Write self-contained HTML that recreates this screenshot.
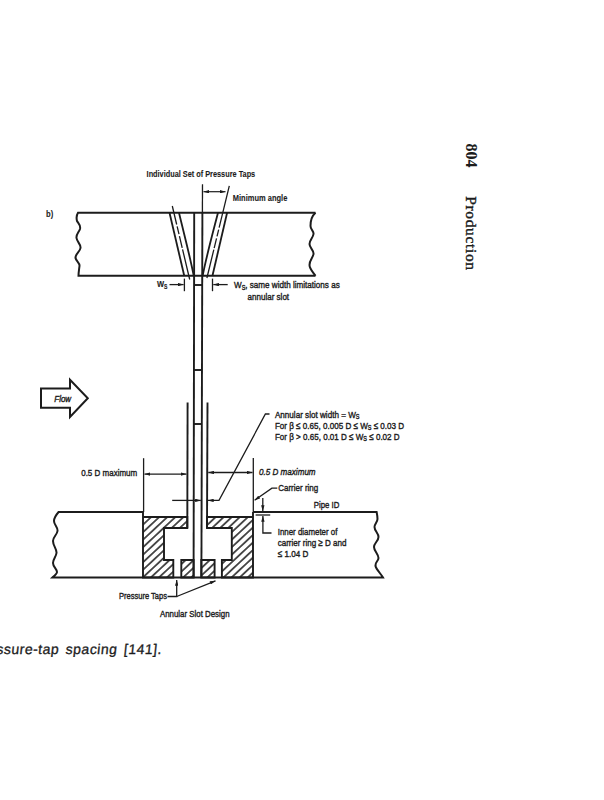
<!DOCTYPE html>
<html><head><meta charset="utf-8">
<style>
html,body{margin:0;padding:0;background:#fff;width:604px;height:800px;overflow:hidden}
svg{display:block}
.t{font-family:"Liberation Sans",sans-serif;font-size:9.9px;fill:#1c1c1c;font-weight:normal;stroke:#1c1c1c;stroke-width:0.4}
.ln{stroke:#1c1c1c;fill:none;stroke-linecap:butt}
</style></head><body>
<svg width="604" height="800" viewBox="0 0 604 800">
<defs>
<marker id="ah" viewBox="0 0 10 6" refX="10" refY="3" markerWidth="6" markerHeight="3.4" markerUnits="userSpaceOnUse" orient="auto-start-reverse">
<path d="M0,0 L10,3 L0,6 z" fill="#1c1c1c"/></marker>
<pattern id="hatch" width="5.5" height="5.5" patternUnits="userSpaceOnUse" patternTransform="rotate(-43)">
<line x1="0" y1="2.75" x2="5.5" y2="2.75" stroke="#1c1c1c" stroke-width="1.5"/></pattern>
</defs>

<!-- top pipe -->
<g class="ln" stroke-width="2">
<path d="M315.5,212.8 L78,212.8 C76,216 76.5,219 77,221 C78,223 81,225 80,229 C79,232 76,234 76.5,238 C77,242 81,244 80.5,248 C80,252 75,254 75.5,258 C76,261 80,263 79.5,266 C79,270 78.5,273 78.5,275.8 L315.5,275.8"/>
<path d="M315.5,212.8 C313,215 310.5,220 310.5,226 C310.5,230 314,231 313.5,234 C313,238 309.5,240 309.5,244 C309.5,248 314,250 313.5,254 C313,258 309.5,260 309.5,265 C309.5,269 313,272 315.5,275.8"/>
</g>
<!-- taps -->
<g class="ln" stroke-width="1.8">
<line x1="169.5" y1="212.8" x2="184.3" y2="276"/>
<path d="M179,212.8 C184,234 189,252 193.8,276"/>
<line x1="227.1" y1="212.8" x2="212.4" y2="276"/>
<path d="M218,212.8 C212,236 206.5,256 202.6,276"/>
</g>
<g class="ln" stroke-width="1.3">
<line x1="172.3" y1="206" x2="189.7" y2="279.5" stroke-dasharray="19,2,8,2,12,1.5,100"/>
<line x1="229.3" y1="185.9" x2="206.9" y2="278" stroke-dasharray="43,2,7,2,10,1.5,100"/>
</g>
<!-- slot -->
<g class="ln" stroke-width="1.9">
<line x1="194.2" y1="212.8" x2="193.6" y2="577.5"/>
<line x1="202.4" y1="212" x2="201.4" y2="577.5"/>
<line x1="202.5" y1="184.3" x2="202.4" y2="213" stroke-width="1.3"/>
<line x1="194" y1="285" x2="202" y2="285"/>
<line x1="194" y1="370" x2="202" y2="370"/>
<line x1="194" y1="424" x2="202" y2="424"/>
<line x1="187.6" y1="402.5" x2="187.3" y2="528"/>
<line x1="207.5" y1="402.5" x2="207" y2="528"/>
</g>
<!-- min angle arrow -->
<g class="ln" stroke-width="1.2">
<line x1="203.5" y1="191.7" x2="225.5" y2="191.7" marker-start="url(#ah)" marker-end="url(#ah)"/>
</g>
<!-- Ws dims -->
<g class="ln" stroke-width="1.3">
<line x1="169.5" y1="284.6" x2="183.6" y2="284.6" marker-end="url(#ah)"/>
<line x1="184.4" y1="278.6" x2="184.4" y2="291.2"/>
<line x1="212.5" y1="278.6" x2="212.5" y2="291.2"/>
<line x1="227.7" y1="284.6" x2="213.3" y2="284.6" marker-end="url(#ah)"/>
</g>

<!-- flow arrow -->
<path class="ln" stroke-width="2" d="M41,388.5 L70,388.5 L70,379.8 L87.8,398.2 L70,417 L70,407.7 L41,407.7 Z"/>

<!-- bottom pipe -->
<g class="ln" stroke-width="2">
<path d="M143,512 L58.6,512 C56,515 54,518 54,521 C54,525 58,527 57.5,531 C57,535 53,537 53,541 C53,546 57,549 56.5,553 C56,557 53,559 53,563 C53,567 57,569 57,572 C57,574 54,576 52.4,577.5 L383,577.5 C381,574 376,569 375.5,566 C375,562 378.5,561 378.5,558 C378.5,554 374,551 374,547 C374,543 378.5,541 378.5,537 C378.5,533 374.5,531 374.5,527 C374.5,524 377.5,522 377.5,519 C377.5,516 377,514 376.6,512 L253,512"/>
</g>
<!-- carrier ring hatched -->
<g stroke="#1c1c1c" stroke-width="1.9" fill="url(#hatch)" stroke-linejoin="miter">
<path d="M143,512 L143,577.5 L173.3,577.5 L173.3,560 L164,560 L164,528 L187.3,528 L187.3,517 L143,517"/>
<path d="M181.3,577.5 L181.3,560 L193.6,560 L193.6,577.5 Z"/>
<path d="M201.3,577.5 L201.3,560 L214.6,560 L214.6,577.5 Z"/>
<path d="M253,512 L253,577.5 L221.9,577.5 L221.9,560 L231.8,560 L231.8,528 L207,528 L207,517 L253,517"/>
</g>

<!-- dims lower -->
<g class="ln" stroke-width="1.3">
<line x1="143.6" y1="458.2" x2="143.6" y2="512"/>
<line x1="253.3" y1="458" x2="253.3" y2="512"/>
<line x1="144.5" y1="474.1" x2="186.5" y2="474.1" marker-start="url(#ah)" marker-end="url(#ah)"/>
<line x1="208.3" y1="472.5" x2="252.5" y2="472.5" marker-start="url(#ah)" marker-end="url(#ah)"/>
<line x1="172.2" y1="500.4" x2="200.8" y2="500.4" marker-end="url(#ah)"/>
<path d="M269.5,414 L265.4,414 L219,500.4 L208,500.4" marker-end="url(#ah)"/>
<path d="M277.3,488.2 L271.9,488.2 L254.6,500.3" marker-end="url(#ah)"/>
<line x1="262.8" y1="498" x2="262.8" y2="511" marker-end="url(#ah)"/>
<line x1="255.6" y1="515" x2="270.2" y2="515"/>
<path d="M271.5,533 L262.9,533 L262.9,516" marker-end="url(#ah)"/>
<path d="M167.5,596.5 L176.7,596.5 L176.7,580" marker-end="url(#ah)"/>
<line x1="176.7" y1="596.5" x2="215.5" y2="580.8" marker-end="url(#ah)"/>
</g>


<g class="t">
<text x="146.6" y="177.3" textLength="108.6" lengthAdjust="spacingAndGlyphs" font-weight="bold" stroke-width="0.1" font-size="9.7">Individual Set of Pressure Taps</text>
<text x="232.8" y="200.8" textLength="54.5" lengthAdjust="spacingAndGlyphs" font-weight="bold" stroke-width="0.1" font-size="9.6">Minimum angle</text>
<text x="46" y="216.9" textLength="7.2" lengthAdjust="spacingAndGlyphs" font-weight="bold" stroke-width="0.1">b)</text>
<text x="247.6" y="299.9" textLength="41.5" lengthAdjust="spacingAndGlyphs">annular slot</text>
<text x="54.3" y="401.9" textLength="16.8" lengthAdjust="spacingAndGlyphs" font-style="italic" font-size="9.2">Flow</text>
<text x="81.2" y="475.8" textLength="56" lengthAdjust="spacingAndGlyphs">0.5 D maximum</text>
<text x="259.1" y="475.0" textLength="56.5" lengthAdjust="spacingAndGlyphs" font-style="italic">0.5 D maximum</text>
<text x="278.2" y="490.8" textLength="40.1" lengthAdjust="spacingAndGlyphs">Carrier ring</text>
<text x="313.8" y="507.8" textLength="25.5" lengthAdjust="spacingAndGlyphs">Pipe ID</text>
<text x="277.7" y="535.2" textLength="59.7" lengthAdjust="spacingAndGlyphs">Inner diameter of</text>
<text x="277.7" y="545.8" textLength="68.8" lengthAdjust="spacingAndGlyphs">carrier ring ≥ D and</text>
<text x="277.7" y="557.1" textLength="30.6" lengthAdjust="spacingAndGlyphs">≤ 1.04 D</text>
<text x="119" y="598.5" textLength="48" lengthAdjust="spacingAndGlyphs">Pressure Taps</text>
<text x="160" y="616.9" textLength="69.5" lengthAdjust="spacingAndGlyphs">Annular Slot Design</text>
<text transform="translate(157,287.4) scale(0.76,1)" font-weight="bold" stroke-width="0.15"><tspan dy="0">W</tspan><tspan font-size="6.73" dy="1.5">S</tspan></text>
<text transform="translate(234,288.3) scale(0.818,1)"><tspan dy="0">W</tspan><tspan font-size="6.73" dy="1.5">S</tspan><tspan dy="-1.5">, same width limitations as</tspan></text>
<text transform="translate(274.9,417.6) scale(0.82,1)"><tspan dy="0">Annular slot width = W</tspan><tspan font-size="6.73" dy="1.5">S</tspan></text>
<text transform="translate(274.9,428.8) scale(0.817,1)"><tspan dy="0">For β ≤ 0.65, 0.005 D ≤ W</tspan><tspan font-size="6.73" dy="1.5">S</tspan><tspan dy="-1.5"> ≤ 0.03 D</tspan></text>
<text transform="translate(274.9,439.6) scale(0.814,1)"><tspan dy="0">For β &gt; 0.65, 0.01 D ≤ W</tspan><tspan font-size="6.73" dy="1.5">S</tspan><tspan dy="-1.5"> ≤ 0.02 D</tspan></text>
</g>
<g font-family="Liberation Serif" fill="#1c1c1c">
<text transform="translate(466,143.5) rotate(90)" font-size="16" font-weight="bold">804</text>
<text transform="translate(466.2,196.2) rotate(90)" font-size="15.5" letter-spacing="0.65" stroke="#1c1c1c" stroke-width="0.4">Production</text>
</g>
<text transform="translate(-4,653.9) skewX(-6)" font-family="Liberation Sans" font-size="14" fill="#1c1c1c" stroke="#1c1c1c" stroke-width="0.3" letter-spacing="0.5" word-spacing="2.2">ssure-tap spacing [141].</text>
</svg>
</body></html>
